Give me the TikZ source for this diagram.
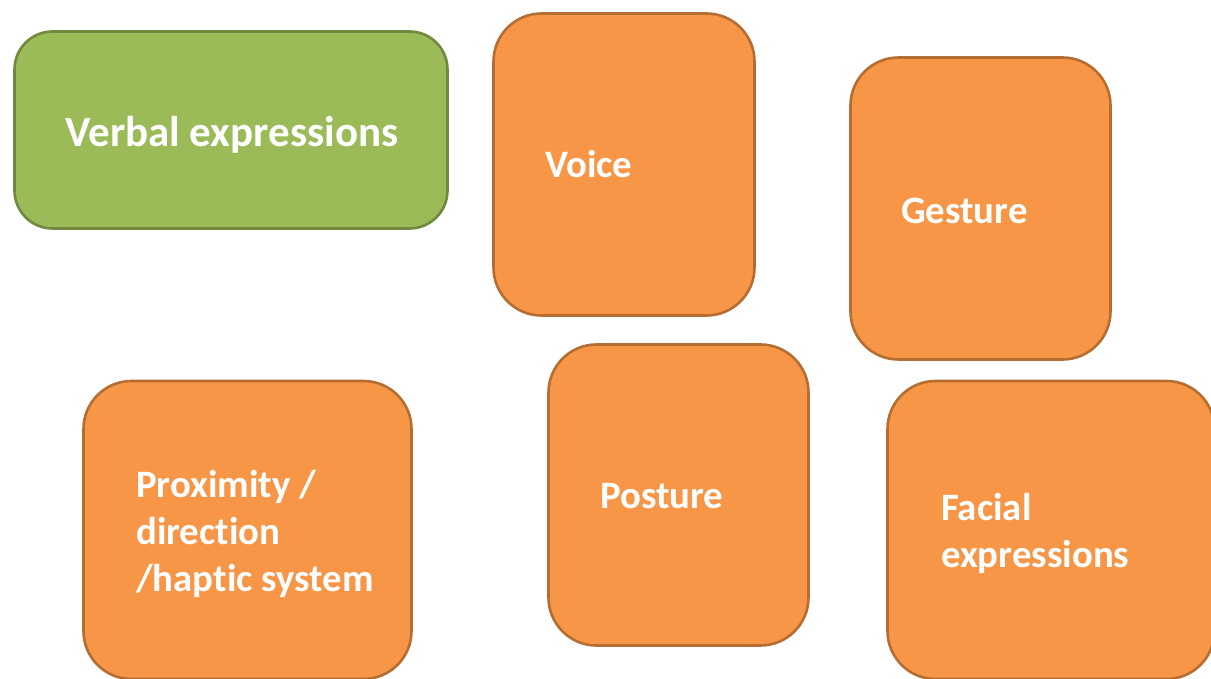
\documentclass[tikz,border=0pt]{standalone}
\usepackage{fontspec}
\setmainfont{Carlito}[Ligatures={NoCommon,NoRare}]
\usepackage{tikz}
\usetikzlibrary{positioning}

\definecolor{verbalfill}{HTML}{9BBB59}
\definecolor{verballine}{HTML}{71893F}
\definecolor{cuefill}{HTML}{F79646}
\definecolor{cueline}{HTML}{B66D31}

\begin{document}
\begin{tikzpicture}[x=1pt,y=-1pt,
  verbalbox/.style={draw=verballine,fill=verbalfill,line width=2.6pt,rounded corners=38pt,
    minimum width=433pt,minimum height=197pt,inner sep=0pt},
  cuebox/.style={draw=cueline,fill=cuefill,line width=2.6pt,rounded corners=48pt,inner sep=0pt},
  verbaltext/.style={anchor=base west,inner sep=0pt,text=white,
    font=\bfseries\fontsize{43}{47}\selectfont},
  cuetext/.style={anchor=base west,inner sep=0pt,align=left,text=white,
    font=\bfseries\fontsize{38.8}{47}\selectfont}]
\useasboundingbox (0,0) rectangle (1211,679);

%verbal channel
\node[verbalbox] (verbal) at (231,130) {};
\node[verbaltext] (verbaltxt) at (65,146.5) {Verbal expressions};

%non-verbal channels
\node[cuebox,minimum width=261pt,minimum height=302pt] (voice) at (624,164.5) {};
\node[cuetext] (voicetxt) at (545,178) {Voice};

\node[cuebox,minimum width=260pt,minimum height=302pt] (gesture) at (980.5,208.5) {};
\node[cuetext] (gesturetxt) at (901,223.3) {Gesture};

\node[cuebox,minimum width=260pt,minimum height=301pt] (posture) at (678.5,495) {};
\node[cuetext] (posturetxt) at (600,508.3) {Posture};

%multi-line texts: base is the last line
\node[cuebox,minimum width=328pt,minimum height=298pt] (proximity) at (247.5,530) {};
\node[cuetext] (proximitytxt) at (136,591) {Proximity /\\direction\\/haptic system};

\node[cuebox,minimum width=327pt,minimum height=298pt] (facial) at (1051,530) {};
\node[cuetext] (facialtxt) at (941,567.7) {Facial\\expressions};

\end{tikzpicture}
\end{document}
